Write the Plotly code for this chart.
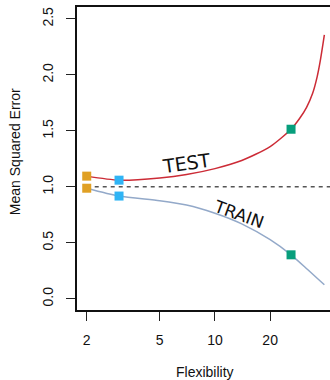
import numpy as np
import plotly.graph_objects as go

# Test and training error against model flexibility (log scale)
test_x = [2, 3, 5, 7, 10, 14, 20, 26, 29, 31.6, 34.1, 36.1, 37.6, 39.5]
test_y = [1.096, 1.06, 1.08, 1.11, 1.163, 1.235, 1.36, 1.515, 1.613, 1.711, 1.836, 1.985, 2.134, 2.357]

train_x = [2, 3, 5, 7, 10, 14, 20, 26, 32, 39.5]
train_y = [0.988, 0.918, 0.876, 0.838, 0.765, 0.67, 0.528, 0.393, 0.262, 0.125]

# Highlighted fits: flexibility, test MSE, train MSE, colour
mark_x = [2, 3, 26]
mark_test = [1.096, 1.06, 1.515]
mark_train = [0.988, 0.918, 0.393]
mark_colors = ["#E0A024", "#2FB4F5", "#079E7C"]

irreducible = 1.0

y_ticks = [0.0, 0.5, 1.0, 1.5, 2.0, 2.5]
x_ticks = [2, 5, 10, 20]

font_family = "Liberation Sans, Arial, sans-serif"
hand_font = "DejaVu Sans, sans-serif"

fig = go.Figure()

fig.add_trace(go.Scatter(
    x=test_x, y=test_y, mode="lines",
    line=dict(color="#CC2B36", width=1.5, shape="spline", smoothing=0.7),
    hoverinfo="skip", showlegend=False,
))
fig.add_trace(go.Scatter(
    x=train_x, y=train_y, mode="lines",
    line=dict(color="#93A9C9", width=1.5, shape="spline", smoothing=0.7),
    hoverinfo="skip", showlegend=False,
))

# Irreducible error level
fig.add_trace(go.Scatter(
    x=[2, 45], y=[irreducible, irreducible], mode="lines",
    line=dict(color="#555555", width=1.5, dash="4px,4px"),
    hoverinfo="skip", showlegend=False,
))

for xv, yt, yr, c in zip(mark_x, mark_test, mark_train, mark_colors):
    fig.add_trace(go.Scatter(
        x=[xv, xv], y=[yt, yr], mode="markers",
        marker=dict(symbol="square", size=9, color=c, line=dict(width=0)),
        hoverinfo="skip", showlegend=False,
    ))

fig.add_annotation(
    x=np.log10(7.0), y=1.215, text="TEST", showarrow=False, textangle=-8,
    font=dict(family=hand_font, size=19, color="#111111"),
)
fig.add_annotation(
    x=np.log10(13.5), y=0.76, text="TRAIN", showarrow=False, textangle=20,
    font=dict(family=hand_font, size=17, color="#111111"),
)

fig.add_annotation(
    xref="paper", yref="paper", x=-0.245, y=0.521, xanchor="center", yanchor="middle",
    text="Mean Squared Error", showarrow=False, textangle=-90,
    font=dict(family=font_family, size=14, color="#111111"),
)
fig.add_annotation(
    xref="paper", yref="paper", x=0.506, y=-0.205, xanchor="center", yanchor="middle",
    text="Flexibility", showarrow=False,
    font=dict(family=font_family, size=14, color="#111111"),
)

fig.update_xaxes(
    type="log", range=[np.log10(1.77), np.log10(42.4)],
    tickvals=x_ticks, ticktext=[str(v) for v in x_ticks],
    ticks="outside", ticklen=9, tickwidth=1.2, tickcolor="#222222",
    ticklabelstandoff=7,
    showline=True, linecolor="#111111", linewidth=1.5, mirror=True,
    showgrid=False, zeroline=False, automargin=False,
    tickfont=dict(family=font_family, size=14, color="#111111"),
)
fig.update_yaxes(
    range=[-0.1, 2.607],
    tickvals=y_ticks, ticktext=[f"{v:.1f}" for v in y_ticks],
    tickangle=-90,
    ticks="outside", ticklen=9, tickwidth=1.2, tickcolor="#222222",
    ticklabelstandoff=8,
    showline=True, linecolor="#111111", linewidth=1.5, mirror=False,
    showgrid=False, zeroline=False, automargin=False,
    tickfont=dict(family=font_family, size=14, color="#111111"),
)

fig.update_layout(
    width=330, height=380,
    margin=dict(l=77, r=0, t=7, b=70),
    paper_bgcolor="white", plot_bgcolor="white",
)

fig.write_html("out.html")
